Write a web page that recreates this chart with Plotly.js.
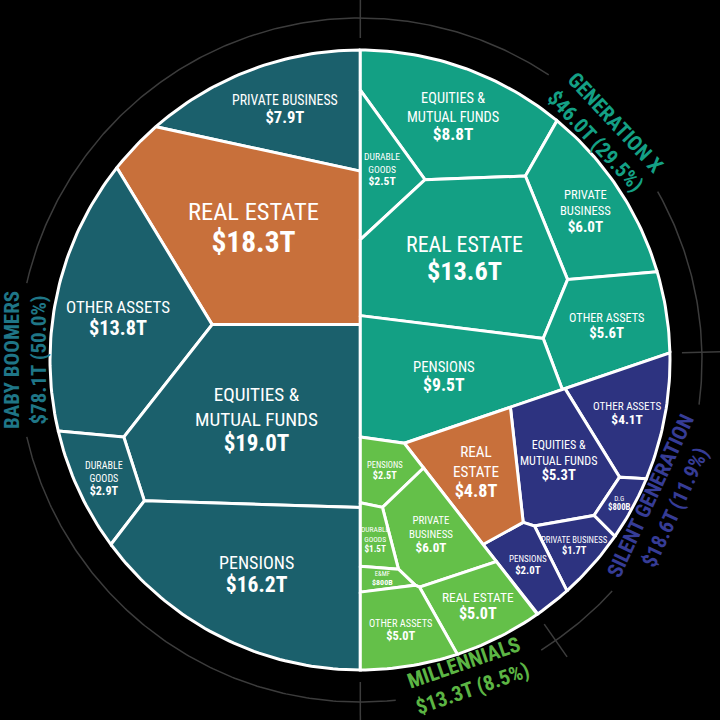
<!DOCTYPE html>
<html>
<head>
<meta charset="utf-8">
<script src="https://cdn.plot.ly/plotly-3.0.1.min.js"></script>
<style>html,body{margin:0;padding:0;background:#000;}</style>
</head>
<body>
<div id="graph" style="width:720px;height:720px;"></div>
<script>
// ---- data (values in $ trillions) ----
const generations = ['BABY BOOMERS', 'GENERATION X', 'SILENT GENERATION', 'MILLENNIALS'];
const genTotals = [78.1, 46.0, 18.6, 13.3];
const genShares = [50.0, 29.5, 11.9, 8.5];

const boomerCats = ['PRIVATE BUSINESS', 'REAL ESTATE', 'OTHER ASSETS', 'EQUITIES &<br>MUTUAL FUNDS', 'DURABLE<br>GOODS', 'PENSIONS'];
const boomerVals = [7.9, 18.3, 13.8, 19.0, 2.9, 16.2];

const genXCats = ['EQUITIES &<br>MUTUAL FUNDS', 'DURABLE<br>GOODS', 'PRIVATE<br>BUSINESS', 'REAL ESTATE', 'OTHER ASSETS', 'PENSIONS'];
const genXVals = [8.8, 2.5, 6.0, 13.6, 5.6, 9.5];

const silentCats = ['OTHER ASSETS', 'EQUITIES &<br>MUTUAL FUNDS', 'D.G', 'PRIVATE BUSINESS', 'PENSIONS', 'REAL<br>ESTATE'];
const silentVals = [4.1, 5.3, 0.8, 1.7, 2.0, 4.8];

const millCats = ['PENSIONS', 'PRIVATE<br>BUSINESS', 'DURABLE<br>GOODS', 'E&MF', 'REAL ESTATE', 'OTHER ASSETS'];
const millVals = [2.5, 6.0, 1.5, 0.8, 5.0, 5.0];

// ---- layout hints: starting sites (px from centre, y up) for the weighted voronoi fit ----
const R = 310;
const topSeeds = [[-150, 0], [150, 0]];                  // boomers | everyone else
const restSeeds = [[120, 140], [205, -110], [70, -215]]; // gen x, silent, millennials
const boomerSeeds = [[-80, 250], [-105, 135], [-245, 50], [-105, -60], [-260, -110], [-110, -225]];
const genXSeeds = [[95, 240], [23, 188], [235, 160], [100, 105], [245, 45], [85, -15]];
const silentSeeds = [[265, -60], [200, -100], [260, -140], [215, -185], [165, -210], [110, -110]];
const millSeeds = [[40, -118], [85, -165], [27, -180], [23, -230], [110, -240], [30, -285]];

// label spots on the outer ring (deg, math angle) and half width of the ring gap
const labelAngles = [180, 43, -25, -71];
const labelRadius = [335, 335, 334, 334];
const gapHalf = [13, 13.5, 17.5, 13];

const genColors = ['#1b606c', '#13a084', '#2d3380', '#64c049'];
const genTextColors = ['#1f7687', '#14a085', '#363c96', '#5cb544'];
const highlightColor = '#c8703b';
const highlighted = [[0, 1], [2, 5]]; // [generation, category] drawn orange
const FONT = 'Liberation Sans Narrow, Roboto Condensed, Roboto, sans-serif';

// ---- geometry helpers ----
function polyArea(p) {
  let s = 0;
  for (let i = 0; i < p.length; i++) {
    const a = p[i], b = p[(i + 1) % p.length];
    s += a[0] * b[1] - b[0] * a[1];
  }
  return s / 2;
}
function polyCentroid(p) {
  let cx = 0, cy = 0, s = 0;
  for (let i = 0; i < p.length; i++) {
    const a = p[i], b = p[(i + 1) % p.length];
    const cr = a[0] * b[1] - b[0] * a[1];
    s += cr; cx += (a[0] + b[0]) * cr; cy += (a[1] + b[1]) * cr;
  }
  return [cx / (3 * s), cy / (3 * s)];
}
// keep the part of poly with a*x + b*y <= c
function clipHalf(poly, a, b, c) {
  const out = [];
  for (let k = 0; k < poly.length; k++) {
    const P = poly[k], Q = poly[(k + 1) % poly.length];
    const fp = a * P[0] + b * P[1] - c, fq = a * Q[0] + b * Q[1] - c;
    if (fp <= 0) out.push(P);
    if ((fp < 0 && fq > 0) || (fp > 0 && fq < 0)) {
      const t = fp / (fp - fq);
      out.push([P[0] + t * (Q[0] - P[0]), P[1] + t * (Q[1] - P[1])]);
    }
  }
  return out;
}
function powerCells(parent, sites, w) {
  return sites.map((s, i) => {
    let poly = parent;
    for (let j = 0; j < sites.length && poly.length > 2; j++) {
      if (j === i) continue;
      const t = sites[j];
      const a = 2 * (t[0] - s[0]), b = 2 * (t[1] - s[1]);
      const c = (t[0] * t[0] + t[1] * t[1] - w[j]) - (s[0] * s[0] + s[1] * s[1] - w[i]);
      poly = clipHalf(poly, a, b, c);
    }
    return poly;
  });
}
// weighted voronoi (power diagram) whose cell areas follow the values
function fitCells(parent, seeds, vals, iters, relax) {
  const A = polyArea(parent), tot = vals.reduce((s, v) => s + v, 0);
  const target = vals.map(v => v / tot * A);
  const sites = seeds.map(s => s.slice()), w = vals.map(() => 0);
  for (let it = 0; it < iters; it++) {
    const cells = powerCells(parent, sites, w);
    cells.forEach((c, i) => {
      const a = c.length > 2 ? polyArea(c) : 0;
      if (relax && a > 1 && it < iters / 2) {
        const g = polyCentroid(c);
        sites[i][0] += relax * (g[0] - sites[i][0]);
        sites[i][1] += relax * (g[1] - sites[i][1]);
      }
      w[i] += 0.4 * (target[i] - a);
    });
  }
  return powerCells(parent, sites, w);
}

// ---- build the hierarchy ----
const circle = [];
for (let k = 0; k < 360; k++) {
  const t = k * Math.PI / 180;
  circle.push([R * Math.cos(t), R * Math.sin(t)]);
}
const halves = fitCells(circle, topSeeds, [genTotals[0], genTotals[1] + genTotals[2] + genTotals[3]], 200, 0.4);
const rest = fitCells(halves[1], restSeeds, [genTotals[1], genTotals[2], genTotals[3]], 400, 0);
const genPolys = [halves[0], rest[0], rest[1], rest[2]];

const catNames = [boomerCats, genXCats, silentCats, millCats];
const catVals = [boomerVals, genXVals, silentVals, millVals];
const catSeeds = [boomerSeeds, genXSeeds, silentSeeds, millSeeds];

function money(v) {
  return v < 1 ? '$' + Math.round(v * 1000) + 'B' : '$' + v.toFixed(1) + 'T';
}

const traces = [];
const annotations = [];

genPolys.forEach((gp, g) => {
  const cells = fitCells(gp, catSeeds[g], catVals[g], 500, 0);
  cells.forEach((c, i) => {
    if (c.length < 3) return;
    const orange = highlighted.some(h => h[0] === g && h[1] === i);
    traces.push({
      type: 'scatter', mode: 'lines', fill: 'toself',
      x: c.map(p => p[0]).concat([c[0][0]]),
      y: c.map(p => p[1]).concat([c[0][1]]),
      fillcolor: orange ? highlightColor : genColors[g],
      line: { color: '#ffffff', width: 3 },
      hoverinfo: 'skip'
    });
    const area = polyArea(c), cen = polyCentroid(c);
    const big = catNames[g][i].indexOf('REAL') === 0 ? 1.3 : 1;
    const ns = (4.2 + 0.078 * Math.sqrt(area)) * big;
    const vs = ns * 1.2;
    annotations.push({
      x: cen[0], y: cen[1], xref: 'x', yref: 'y', showarrow: false,
      text: catNames[g][i] + '<br><span style="font-size:' + vs.toFixed(1) + 'px"><b>' + money(catVals[g][i]) + '</b></span>',
      font: { family: FONT, size: ns, color: '#ffffff' },
      align: 'center'
    });
  });
});

// ---- outer ring with gaps for the generation labels ----
const gaps = labelAngles.map((a, g) => {
  const s = ((a - gapHalf[g]) % 360 + 360) % 360;
  return [s, s + 2 * gapHalf[g]];
}).sort((p, q) => p[0] - q[0]);
const RING = 342;
const ringX = [], ringY = [];
gaps.forEach((gp, k) => {
  const next = gaps[(k + 1) % gaps.length];
  const a0 = gp[1];
  let a1 = next[0];
  if (a1 < a0) a1 += 360;
  for (let a = a0; a <= a1 + 1e-6; a += 0.5) {
    const t = a * Math.PI / 180;
    ringX.push(RING * Math.cos(t)); ringY.push(RING * Math.sin(t));
  }
  ringX.push(null); ringY.push(null);
});

// radial ticks where two generations meet on the rim
const tickAngles = [];
genPolys.forEach(p => {
  const n = p.length;
  for (let k = 0; k < n; k++) {
    const v = p[k];
    if (Math.abs(Math.hypot(v[0], v[1]) - R) > 0.5) continue;
    const prev = p[(k - 1 + n) % n], nxt = p[(k + 1) % n];
    const m1 = Math.hypot((v[0] + prev[0]) / 2, (v[1] + prev[1]) / 2);
    const m2 = Math.hypot((v[0] + nxt[0]) / 2, (v[1] + nxt[1]) / 2);
    if (m1 < R - 1 || m2 < R - 1) {
      const ang = Math.atan2(v[1], v[0]);
      if (!tickAngles.some(t => Math.abs(Math.atan2(Math.sin(t - ang), Math.cos(t - ang))) < 0.03)) tickAngles.push(ang);
    }
  }
});
tickAngles.forEach(t => {
  ringX.push(322 * Math.cos(t), 362 * Math.cos(t), null);
  ringY.push(322 * Math.sin(t), 362 * Math.sin(t), null);
});
traces.push({
  type: 'scatter', mode: 'lines', x: ringX, y: ringY,
  line: { color: '#3c3c3c', width: 1.5 }, hoverinfo: 'skip'
});

// ---- generation labels around the ring (kept readable, never upside down) ----
labelAngles.forEach((a, g) => {
  let ta = 90 - a;
  if (ta > 90) ta -= 180;
  if (ta < -90) ta += 180;
  const t = a * Math.PI / 180;
  annotations.push({
    x: labelRadius[g] * Math.cos(t), y: labelRadius[g] * Math.sin(t), xref: 'x', yref: 'y', showarrow: false,
    textangle: ta,
    text: '<b>' + generations[g] + '<br>$' + genTotals[g].toFixed(1) + 'T (' + genShares[g].toFixed(1) + '%)</b>',
    font: { family: FONT, size: 21, color: genTextColors[g] },
    align: 'center'
  });
});

Plotly.newPlot('graph', traces, {
  width: 720, height: 720,
  margin: { l: 0, r: 0, t: 0, b: 0 },
  paper_bgcolor: '#000000', plot_bgcolor: '#000000',
  showlegend: false,
  xaxis: { range: [-360, 360], visible: false, fixedrange: true },
  yaxis: { range: [-360, 360], visible: false, fixedrange: true },
  annotations: annotations
}, { staticPlot: true });
</script>
</body>
</html>
